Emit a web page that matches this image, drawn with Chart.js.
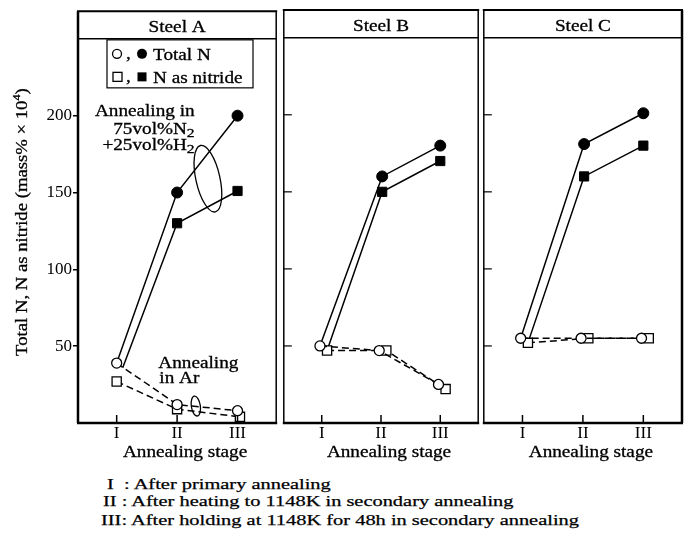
<!DOCTYPE html>
<html>
<head>
<meta charset="utf-8">
<script src="https://cdn.jsdelivr.net/npm/chart.js@4.4.1/dist/chart.umd.min.js"></script>
<style>
  html, body { margin: 0; padding: 0; background: #fff; }
  body { width: 691px; height: 537px; position: relative; overflow: hidden; }
  .wrap { position: absolute; top: 0; height: 470px; }
  .note { position: absolute; font-family: "Liberation Serif", "Times New Roman", serif; font-size: 15px; line-height: 1; color: #000; white-space: pre; transform-origin: 0 0; transform: scaleX(1.36); -webkit-text-stroke: 0.25px #000; }
</style>
</head>
<body>
<div class="wrap" style="left:0;width:284px"><canvas id="cA" width="284" height="470"></canvas></div>
<div class="wrap" style="left:276px;width:210px"><canvas id="cB" width="210" height="470"></canvas></div>
<div class="wrap" style="left:476px;width:215px"><canvas id="cC" width="215" height="470"></canvas></div>
<div class="note" style="left:107px;top:477px">I  : After primary annealing</div>
<div class="note" style="left:103px;top:494px">II : After heating to 1148K in secondary annealing</div>
<div class="note" style="left:101px;top:513px">III: After holding at 1148K for 48h in secondary annealing</div>
<script>
// ---------- data ----------
const stages = [1, 2, 3];
const stageLabels = ['I', 'II', 'III'];
const yTicks = [50, 100, 150, 200];
const headerValue = 250;

// Steel A
const aArTotal = [39, 12, 8];
const aArNitride = [27, 9, 4];
const aGasTotal = [39, 150, 200];
const aGasNitride = [36, 130, 151];
// Steel B
const bArTotal = [50, 47, 25];
const bArNitride = [47, 47, 22];
const bGasTotal = [50, 160, 180];
const bGasNitride = [47, 150, 170];
// Steel C
const cArTotal = [55, 55, 55];
const cArNitride = [52, 55, 55];
const cGasTotal = [55, 181, 201];
const cGasNitride = [52, 160, 180];

// small horizontal dodges so overlapping markers stay visible (style only)
const dodgeA = { arT: [0, 0, 0], arN: [0, 0, 0.04], gasT: [0, 0, 0], gasN: [0.1, 0, 0] };
const dodgeBC = { arT: [-0.03, -0.03, -0.03], arN: [0.09, 0.09, 0.09], gasT: [-0.03, 0.02, 0], gasN: [0.09, 0.02, 0] };

const FONT = '"Liberation Serif", "Times New Roman", serif';

function pts(vals, dodge) {
  return stages.map((s, i) => ({ x: s + dodge[i], y: vals[i] }));
}

function panelDatasets(arT, arN, gasT, gasN, d) {
  const base = { borderColor: '#000', borderWidth: 1.5, tension: 0, fill: false, pointBorderColor: '#000' };
  return [
    Object.assign({}, base, { data: pts(arT, d.arT), borderDash: [7, 4], pointStyle: 'circle', pointRadius: 5, pointBackgroundColor: '#fff', pointBorderWidth: 1.3 }),
    Object.assign({}, base, { data: pts(arN, d.arN), borderDash: [7, 4], pointStyle: 'rect', pointRadius: 6.5, pointBackgroundColor: '#fff', pointBorderWidth: 1.3 }),
    Object.assign({}, base, { data: pts(gasT, d.gasT), pointStyle: 'circle', pointRadius: [0, 5.5, 5.5], pointBackgroundColor: '#000', pointBorderWidth: 1 }),
    Object.assign({}, base, { data: pts(gasN, d.gasN), pointStyle: 'rect', pointRadius: [0, 6.5, 6.5], pointBackgroundColor: '#000', pointBorderWidth: 1 })
  ];
}

// ---------- text helpers ----------
function runs(ctx, parts, x, y, align, sx) {
  ctx.save();
  let total = 0;
  parts.forEach(p => { ctx.font = p.s + 'px ' + FONT; p.w = ctx.measureText(p.t).width * sx; total += p.w; });
  let cx = align === 'center' ? x - total / 2 : (align === 'right' ? x - total : x);
  ctx.fillStyle = '#000'; ctx.strokeStyle = '#000'; ctx.textBaseline = 'alphabetic'; ctx.textAlign = 'left';
  parts.forEach(p => {
    ctx.save();
    ctx.font = p.s + 'px ' + FONT;
    ctx.translate(cx, y + (p.dy || 0));
    ctx.scale(sx, 1);
    ctx.fillText(p.t, 0, 0);
    ctx.lineWidth = 0.3; ctx.strokeText(p.t, 0, 0);
    ctx.restore();
    cx += p.w;
  });
  ctx.restore();
}
function txt(ctx, t, x, y, align, size, sx) { runs(ctx, [{ t: t, s: size }], x, y, align, sx); }

function line(ctx, x1, y1, x2, y2, w) {
  ctx.lineWidth = w; ctx.beginPath(); ctx.moveTo(x1, y1); ctx.lineTo(x2, y2); ctx.stroke();
}

// ---------- decoration plugin ----------
const decor = {
  id: 'decor',
  afterDraw(chart, args, o) {
    const ctx = chart.ctx, a = chart.chartArea, xs = chart.scales.x, ys = chart.scales.y;
    ctx.save();
    ctx.strokeStyle = '#000'; ctx.setLineDash([]);
    const hy = ys.getPixelForValue(headerValue);
    line(ctx, a.left - 1, a.top, a.right + 1, a.top, 2);
    line(ctx, a.left - 1, a.bottom, a.right + 1, a.bottom, 2.5);
    line(ctx, a.left, a.top, a.left, a.bottom, o.leftW);
    line(ctx, a.right, a.top, a.right, a.bottom, o.rightW);
    line(ctx, a.left, hy, a.right, hy, 1.5);
    txt(ctx, o.title, (a.left + a.right) / 2, hy - 7, 'center', 16, 1.2);
    stages.forEach(s => { const px = xs.getPixelForValue(s); line(ctx, px, a.bottom, px, a.bottom - 8, 1.5); });
    if (o.innerYTicks) yTicks.forEach(v => { const py = ys.getPixelForValue(v); line(ctx, a.left, py, a.left + 8, py, 1.2); });
    txt(ctx, 'Annealing stage', (a.left + a.right) / 2 + 8, a.bottom + 34, 'center', 16, 1.2);
    if (o.extras) o.extras(ctx, xs, ys, a, hy);
    ctx.restore();
  }
};

function extrasA(ctx, xs, ys, a, hy) {
  // legend box
  const L = a.left + 29, T = hy + 1;
  ctx.lineWidth = 1.2; ctx.strokeRect(L, T, 146, 48);
  const r1 = T + 14, r2 = T + 37;
  ctx.fillStyle = '#fff'; ctx.lineWidth = 1.3;
  ctx.beginPath(); ctx.arc(L + 10, r1, 4.5, 0, Math.PI * 2); ctx.fill(); ctx.stroke();
  ctx.fillStyle = '#000';
  ctx.beginPath(); ctx.arc(L + 35, r1, 5, 0, Math.PI * 2); ctx.fill();
  ctx.fillStyle = '#fff'; ctx.fillRect(L + 6, r2 - 4.5, 9, 9); ctx.strokeRect(L + 6, r2 - 4.5, 9, 9);
  ctx.fillStyle = '#000'; ctx.fillRect(L + 30.5, r2 - 4.5, 9, 9);
  txt(ctx, ',', L + 19, r1 + 5, 'left', 16, 1.2);
  txt(ctx, ',', L + 19, r2 + 5, 'left', 16, 1.2);
  txt(ctx, 'Total N', L + 46, r1 + 6, 'left', 16, 1.2);
  txt(ctx, 'N as nitride', L + 46, r2 + 6, 'left', 16, 1.2);

  // gas annotation
  const ax = xs.getPixelForValue(2.29), ay = ys.getPixelForValue(200);
  txt(ctx, 'Annealing in', ax, ay, 'right', 16, 1.2);
  runs(ctx, [{ t: '75vol%N', s: 16 }, { t: '2', s: 13, dy: 3 }], ax, ay + 18, 'right', 1.2);
  runs(ctx, [{ t: '+25vol%H', s: 16 }, { t: '2', s: 13, dy: 3 }], ax, ay + 34, 'right', 1.2);
  // lasso
  ctx.lineWidth = 1.3;
  ctx.beginPath();
  ctx.ellipse(xs.getPixelForValue(2.51), ys.getPixelForValue(159), 12, 34, -0.22, 0, Math.PI * 2);
  ctx.stroke();

  // Ar annotation
  const bx = xs.getPixelForValue(1.69), by = ys.getPixelForValue(36);
  txt(ctx, 'Annealing', bx, by, 'left', 16, 1.2);
  txt(ctx, 'in Ar', bx + 1, by + 15, 'left', 16, 1.2);
  ctx.beginPath();
  ctx.ellipse(xs.getPixelForValue(2.31), ys.getPixelForValue(11), 4.5, 10, -0.15, 0, Math.PI * 2);
  ctx.stroke();

  // y axis title
  ctx.save();
  ctx.translate(27, (a.top + a.bottom) / 2 + 5);
  ctx.rotate(-Math.PI / 2);
  runs(ctx, [{ t: 'Total N, N as nitride (mass% × 10', s: 17 }, { t: '4', s: 11, dy: -7 }, { t: ')', s: 17 }], 0, 0, 'center', 1.1);
  ctx.restore();
}

function makeChart(id, datasets, cfg) {
  return new Chart(document.getElementById(id), {
    type: 'line',
    data: { datasets: datasets },
    plugins: [decor],
    options: {
      responsive: false, animation: false, events: [],
      layout: { padding: { left: cfg.padL, right: cfg.padR, top: 10, bottom: 0 } },
      plugins: {
        legend: { display: false }, tooltip: { enabled: false },
        decor: { title: cfg.title, leftW: cfg.leftW, rightW: cfg.rightW, innerYTicks: cfg.innerYTicks, extras: cfg.extras }
      },
      scales: {
        x: {
          type: 'linear', min: 0.36, max: 3.64,
          afterBuildTicks: s => { s.ticks = stages.map(v => ({ value: v })); },
          afterFit: s => { s.height = 47; },
          ticks: { callback: (v, i) => stageLabels[i], color: '#000', font: { family: FONT, size: 17 }, padding: 0, maxRotation: 0, autoSkip: false },
          grid: { display: false, drawTicks: false },
          border: { display: false }
        },
        y: {
          display: cfg.showY, min: 0, max: 268,
          afterBuildTicks: s => { s.ticks = yTicks.map(v => ({ value: v })); },
          afterFit: s => { if (cfg.showY) s.width = 78; },
          ticks: { color: '#000', font: { family: FONT, size: 17 }, padding: 1 },
          grid: { drawOnChartArea: false, drawTicks: true, tickLength: 5, color: '#000', lineWidth: 1.5 },
          border: { display: false }
        }
      }
    }
  });
}

makeChart('cA', panelDatasets(aArTotal, aArNitride, aGasTotal, aGasNitride, dodgeA),
  { padL: 0, padR: 4, title: 'Steel A', leftW: 2.5, rightW: 1.5, showY: true, innerYTicks: false, extras: extrasA });
makeChart('cB', panelDatasets(bArTotal, bArNitride, bGasTotal, bGasNitride, dodgeBC),
  { padL: 4, padR: 6, title: 'Steel B', leftW: 1.5, rightW: 1.5, showY: false, innerYTicks: true });
makeChart('cC', panelDatasets(cArTotal, cArNitride, cGasTotal, cGasNitride, dodgeBC),
  { padL: 4, padR: 9, title: 'Steel C', leftW: 1.5, rightW: 2.5, showY: false, innerYTicks: true });
</script>
</body>
</html>
